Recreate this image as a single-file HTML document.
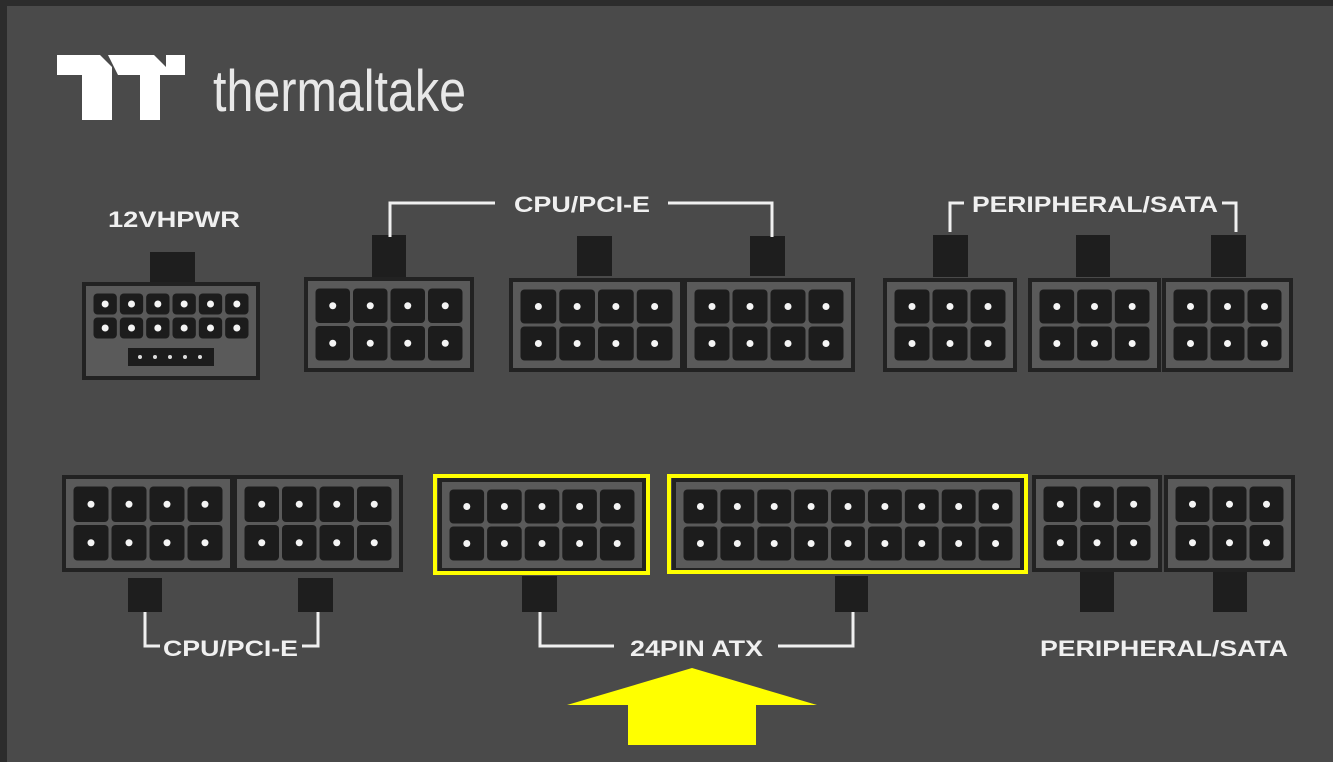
<!DOCTYPE html>
<html><head><meta charset="utf-8"><style>
html,body{margin:0;padding:0;background:#2a2a2a;}
svg{display:block}
text{font-family:"Liberation Sans",sans-serif;}
</style></head><body>
<svg id="s" width="1333" height="762" viewBox="0 0 1333 762" xmlns="http://www.w3.org/2000/svg">
<rect x="0" y="0" width="1333" height="762" fill="#2c2c2c"/>
<rect x="7" y="6" width="1326" height="756" fill="#4a4a4a"/>
<polygon points="57,55 100,55 112,67 112,120 82,120 82,75 57,75" fill="#fff"/>
<polygon points="108,55 154,55 166,67 166,55 185,55 185,75 160,75 160,120 140,120 140,75 118,75" fill="#fff"/>
<text x="213" y="111" font-size="58" fill="#e8e8e8" textLength="253" lengthAdjust="spacingAndGlyphs">thermaltake</text>
<g id="conn"></g>
<g fill="#f0f0f0" font-weight="bold" font-size="22">
<text x="108" y="227" textLength="132" lengthAdjust="spacingAndGlyphs">12VHPWR</text>
<text x="514" y="212" textLength="136" lengthAdjust="spacingAndGlyphs">CPU/PCI-E</text>
<text x="972" y="212" textLength="246" lengthAdjust="spacingAndGlyphs">PERIPHERAL/SATA</text>
<text x="163" y="656" textLength="135" lengthAdjust="spacingAndGlyphs">CPU/PCI-E</text>
<text x="630" y="656" textLength="133" lengthAdjust="spacingAndGlyphs">24PIN ATX</text>
<text x="1040" y="656" textLength="248" lengthAdjust="spacingAndGlyphs">PERIPHERAL/SATA</text>
</g>
<g stroke="#f0f0f0" stroke-width="3" fill="none">
<polyline points="390,237 390,203 495,203"/>
<polyline points="668,203 772,203 772,237"/>
<polyline points="950,232 950,203 964,203"/>
<polyline points="1222,203 1236,203 1236,232"/>
<polyline points="145,612 145,646 160,646"/>
<polyline points="302,646 318,646 318,612"/>
<polyline points="540,612 540,646 614,646"/>
<polyline points="778,646 853,646 853,612"/>
</g>
<polygon points="692,668 817,705 756,705 756,745 628,745 628,705 567,705" fill="#ffff00"/>
</svg>
<script>
var g=document.getElementById('conn'),NS='http://www.w3.org/2000/svg';
function r(x,y,w,h,f,extra){var e=document.createElementNS(NS,'rect');e.setAttribute('x',x);e.setAttribute('y',y);e.setAttribute('width',w);e.setAttribute('height',h);e.setAttribute('fill',f);if(extra)for(var k in extra)e.setAttribute(k,extra[k]);g.appendChild(e);return e;}
function c(x,y,rad,f){var e=document.createElementNS(NS,'circle');e.setAttribute('cx',x);e.setAttribute('cy',y);e.setAttribute('r',rad);e.setAttribute('fill',f);g.appendChild(e);}
function conn(x,y,w,h,cols,rows,pad,bottomExtra){
 r(x,y,w,h,'#222');r(x+4,y+4,w-8,h-8,'#5a5a5a');
 var ix=x+pad,iy=y+pad,iw=w-2*pad,ih=h-2*pad-(bottomExtra||0);
 var cw=iw/cols,ch=ih/rows;
 for(var i=0;i<cols;i++)for(var j=0;j<rows;j++){
  r(ix+i*cw+1.5,iy+j*ch+1.5,cw-3,ch-3,'#1c1c1c',{rx:4});
  c(ix+i*cw+cw/2,iy+j*ch+ch/2,3.5,'#f4f4f4');
 }
}
function tab(x,y,w,h){r(x,y,w,h,'#1e1e1e');}
tab(150,252,45,32);conn(82,282,178,98,6,2,10,30);
r(128,348,86,18,'#1c1c1c');for(var i=0;i<5;i++)c(140+i*15,357,2,'#ddd');
tab(372,235,34,44);conn(304,277,170,95,4,2,10);
tab(577,236,35,40);conn(509,278,175,94,4,2,10);
tab(750,236,35,40);conn(683,278,172,94,4,2,10);
tab(933,235,35,42);conn(883,278,134,94,3,2,10);
tab(1076,235,34,42);conn(1028,278,133,94,3,2,10);
tab(1211,235,35,42);conn(1162,278,131,94,3,2,10);
conn(62,475,172,97,4,2,10);conn(233,475,170,97,4,2,10);
tab(128,578,34,34);tab(298,578,35,34);
tab(522,576,35,36);tab(835,576,33,36);
conn(438,478,208,94,5,2,10);conn(672,478,352,94,9,2,10);
conn(1032,475,130,97,3,2,10);conn(1164,475,131,97,3,2,10);
tab(1080,572,34,40);tab(1213,572,34,40);
r(435,476,213,97,'none',{stroke:'#ffff00','stroke-width':4});
r(669,476,357,96,'none',{stroke:'#ffff00','stroke-width':4});
</script>
</body></html>
